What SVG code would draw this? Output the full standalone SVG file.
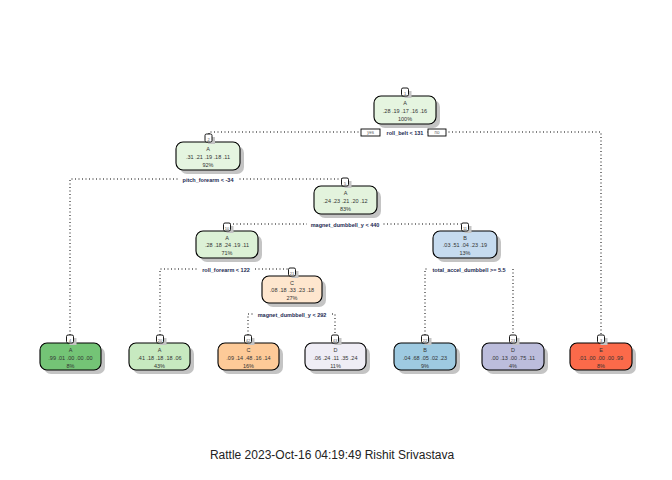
<svg xmlns="http://www.w3.org/2000/svg" width="672" height="480" viewBox="0 0 672 480">
<style>
.sh{fill:#c4c4c4}
.nd{stroke:#000;stroke-width:1.1}
.num{fill:#fff;stroke:#000;stroke-width:0.9}
.t{font-family:"Liberation Sans",Arial,sans-serif;font-size:5.5px;fill:#333;text-anchor:middle}
.n{font-family:"Liberation Sans",Arial,sans-serif;font-size:4px;fill:#555;text-anchor:middle}
.sp{font-family:"Liberation Sans",Arial,sans-serif;font-size:5.5px;font-weight:bold;fill:#1c2a52;text-anchor:middle}
.yn{font-family:"Liberation Sans",Arial,sans-serif;font-size:4.5px;fill:#666;text-anchor:middle}
.ln{stroke:#000;stroke-width:1;stroke-dasharray:1 2.5;fill:none}
.bg{fill:#fff}
.cap{font-family:"Liberation Sans",Arial,sans-serif;font-size:12px;fill:#222;text-anchor:middle}
</style>
<rect width="672" height="480" fill="#fff"/>
<g id="connectors">
<path class="ln" d="M209,134 V132 H601 V335"/>
<path class="ln" d="M70,335 V179 H345"/>
<path class="ln" d="M227,223 V224 H465 V223"/>
<path class="ln" d="M160,335 V269 H292"/>
<path class="ln" d="M425,335 V269 H513 V335"/>
<path class="ln" d="M248,335 V314 H335 V335"/>
</g>
<g id="splits">
<rect class="bg" x="382" y="129" width="45" height="7"/>
<text class="sp" x="405" y="134.5">roll_belt &lt; 131</text>
<rect class="num" x="361" y="129" width="19" height="7"/>
<text class="yn" x="370.5" y="134">yes</text>
<rect class="num" x="428" y="129" width="18" height="7"/>
<text class="yn" x="437" y="134">no</text>
<rect class="bg" x="178" y="176" width="60" height="7"/>
<text class="sp" x="208" y="181.5">pitch_forearm &lt; -34</text>
<rect class="bg" x="307" y="221" width="76" height="7"/>
<text class="sp" x="345" y="226.5">magnet_dumbbell_y &lt; 440</text>
<rect class="bg" x="197" y="266" width="58" height="7"/>
<text class="sp" x="226" y="271.5">roll_forearm &lt; 122</text>
<rect class="bg" x="427" y="266" width="84" height="7"/>
<text class="sp" x="469" y="271.5">total_accel_dumbbell &gt;= 5.5</text>
<rect class="bg" x="253" y="311" width="78" height="7"/>
<text class="sp" x="292" y="316.5">magnet_dumbbell_y &lt; 292</text>
</g>
<g id="node1">
<rect class="sh" x="378" y="100" width="62" height="28" rx="7"/>
<rect class="nd" x="374" y="96" width="62" height="28" rx="7" fill="#e5f5e0"/>
<rect class="sh" x="404.5" y="91" width="7" height="7"/>
<rect class="num" x="401.5" y="88" width="7" height="8" rx="1.5"/>
<text class="n" x="405" y="94.5">1</text>
<text class="t" x="405" y="104.5">A</text>
<text class="t" x="405" y="112.5">.28 .19 .17 .16 .16</text>
<text class="t" x="405" y="120.5">100%</text>
</g>
<g id="node2">
<rect class="sh" x="180" y="146" width="64" height="28" rx="7"/>
<rect class="nd" x="176" y="142" width="64" height="28" rx="7" fill="#e5f5e0"/>
<rect class="sh" x="208" y="137" width="7" height="7"/>
<rect class="num" x="205" y="134" width="7" height="8" rx="1.5"/>
<text class="n" x="208.5" y="140.5">2</text>
<text class="t" x="208" y="150.5">A</text>
<text class="t" x="208" y="158.5">.31 .21 .19 .18 .11</text>
<text class="t" x="208" y="166.5">92%</text>
</g>
<g id="node5">
<rect class="sh" x="318" y="190" width="63" height="28" rx="7"/>
<rect class="nd" x="314" y="186" width="63" height="28" rx="7" fill="#e3f3dd"/>
<rect class="sh" x="344.5" y="181" width="7" height="7"/>
<rect class="num" x="341.5" y="178" width="7" height="8" rx="1.5"/>
<text class="n" x="345" y="184.5">5</text>
<text class="t" x="345.5" y="194.5">A</text>
<text class="t" x="345.5" y="202.5">.24 .23 .21 .20 .12</text>
<text class="t" x="345.5" y="210.5">83%</text>
</g>
<g id="node10">
<rect class="sh" x="200" y="235" width="62" height="27" rx="7"/>
<rect class="nd" x="196" y="231" width="62" height="27" rx="7" fill="#dcf1d6"/>
<rect class="sh" x="226.5" y="226" width="7" height="7"/>
<rect class="num" x="223.5" y="223" width="7" height="8" rx="1.5"/>
<text class="n" x="227" y="229.5">10</text>
<text class="t" x="227" y="239.5">A</text>
<text class="t" x="227" y="247">.28 .18 .24 .19 .11</text>
<text class="t" x="227" y="255">71%</text>
</g>
<g id="node11">
<rect class="sh" x="437" y="235" width="64" height="27" rx="7"/>
<rect class="nd" x="433" y="231" width="64" height="27" rx="7" fill="#c6dbef"/>
<rect class="sh" x="464.5" y="226" width="7" height="7"/>
<rect class="num" x="461.5" y="223" width="7" height="8" rx="1.5"/>
<text class="n" x="465" y="229.5">11</text>
<text class="t" x="465" y="239.5">B</text>
<text class="t" x="465" y="247">.03 .51 .04 .23 .19</text>
<text class="t" x="465" y="255">13%</text>
</g>
<g id="node21">
<rect class="sh" x="266" y="280" width="60" height="27" rx="7"/>
<rect class="nd" x="262" y="276" width="60" height="27" rx="7" fill="#fee6ce"/>
<rect class="sh" x="291.5" y="271" width="7" height="7"/>
<rect class="num" x="288.5" y="268" width="7" height="8" rx="1.5"/>
<text class="n" x="292" y="274.5">21</text>
<text class="t" x="292" y="284.5">C</text>
<text class="t" x="292" y="292">.08 .18 .33 .23 .18</text>
<text class="t" x="292" y="300">27%</text>
</g>
<g id="node4">
<rect class="sh" x="44" y="347" width="61" height="27" rx="7"/>
<rect class="nd" x="40" y="343" width="61" height="27" rx="7" fill="#74c476"/>
<rect class="sh" x="69.5" y="338" width="7" height="7"/>
<rect class="num" x="66.5" y="335" width="7" height="8" rx="1.5"/>
<text class="n" x="70" y="341.5">4</text>
<text class="t" x="70.5" y="352">A</text>
<text class="t" x="70.5" y="359.5">.99 .01 .00 .00 .00</text>
<text class="t" x="70.5" y="367.5">8%</text>
</g>
<g id="node20">
<rect class="sh" x="133" y="347" width="61" height="27" rx="7"/>
<rect class="nd" x="129" y="343" width="61" height="27" rx="7" fill="#c7e9c0"/>
<rect class="sh" x="159.5" y="338" width="7" height="7"/>
<rect class="num" x="156.5" y="335" width="7" height="8" rx="1.5"/>
<text class="n" x="160" y="341.5">20</text>
<text class="t" x="159.5" y="352">A</text>
<text class="t" x="159.5" y="359.5">.41 .18 .18 .18 .06</text>
<text class="t" x="159.5" y="367.5">43%</text>
</g>
<g id="node42">
<rect class="sh" x="222" y="347" width="61" height="27" rx="7"/>
<rect class="nd" x="218" y="343" width="61" height="27" rx="7" fill="#fdca98"/>
<rect class="sh" x="247.5" y="338" width="7" height="7"/>
<rect class="num" x="244.5" y="335" width="7" height="8" rx="1.5"/>
<text class="n" x="248" y="341.5">42</text>
<text class="t" x="248.5" y="352">C</text>
<text class="t" x="248.5" y="359.5">.09 .14 .48 .16 .14</text>
<text class="t" x="248.5" y="367.5">16%</text>
</g>
<g id="node43">
<rect class="sh" x="309" y="347" width="61" height="27" rx="7"/>
<rect class="nd" x="305" y="343" width="61" height="27" rx="7" fill="#efedf5"/>
<rect class="sh" x="334.5" y="338" width="7" height="7"/>
<rect class="num" x="331.5" y="335" width="7" height="8" rx="1.5"/>
<text class="n" x="335" y="341.5">43</text>
<text class="t" x="335.5" y="352">D</text>
<text class="t" x="335.5" y="359.5">.06 .24 .11 .35 .24</text>
<text class="t" x="335.5" y="367.5">11%</text>
</g>
<g id="node22">
<rect class="sh" x="398" y="347" width="62" height="27" rx="7"/>
<rect class="nd" x="394" y="343" width="62" height="27" rx="7" fill="#9ecae1"/>
<rect class="sh" x="424.5" y="338" width="7" height="7"/>
<rect class="num" x="421.5" y="335" width="7" height="8" rx="1.5"/>
<text class="n" x="425" y="341.5">22</text>
<text class="t" x="425" y="352">B</text>
<text class="t" x="425" y="359.5">.04 .68 .05 .02 .23</text>
<text class="t" x="425" y="367.5">9%</text>
</g>
<g id="node23">
<rect class="sh" x="486" y="347" width="62" height="27" rx="7"/>
<rect class="nd" x="482" y="343" width="62" height="27" rx="7" fill="#bcbddc"/>
<rect class="sh" x="512.5" y="338" width="7" height="7"/>
<rect class="num" x="509.5" y="335" width="7" height="8" rx="1.5"/>
<text class="n" x="513" y="341.5">23</text>
<text class="t" x="513" y="352">D</text>
<text class="t" x="513" y="359.5">.00 .13 .00 .75 .11</text>
<text class="t" x="513" y="367.5">4%</text>
</g>
<g id="node3">
<rect class="sh" x="574" y="347" width="62" height="27" rx="7"/>
<rect class="nd" x="570" y="343" width="62" height="27" rx="7" fill="#fb6a4a"/>
<rect class="sh" x="600.5" y="338" width="7" height="7"/>
<rect class="num" x="597.5" y="335" width="7" height="8" rx="1.5"/>
<text class="n" x="601" y="341.5">3</text>
<text class="t" x="601" y="352">E</text>
<text class="t" x="601" y="359.5">.01 .00 .00 .00 .99</text>
<text class="t" x="601" y="367.5">8%</text>
</g>
<text class="cap" x="332" y="459">Rattle 2023-Oct-16 04:19:49 Rishit Srivastava</text>
</svg>
